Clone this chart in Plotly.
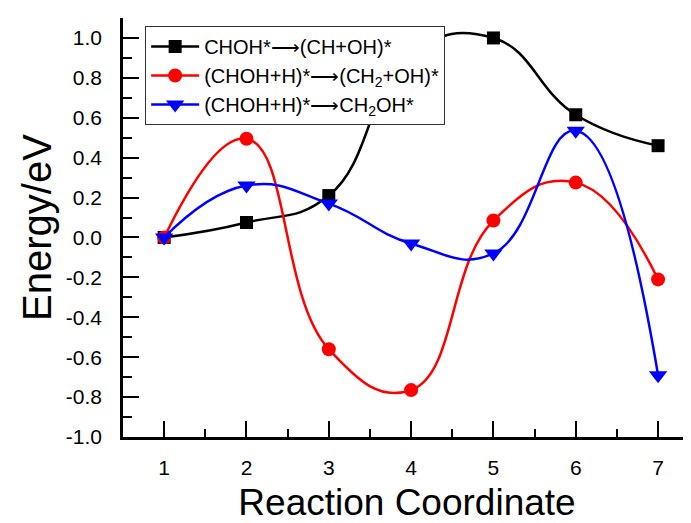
import plotly.graph_objects as go

# Data
coord = [1, 2, 3, 4, 5, 6, 7]
e_ch_oh = [0.0, 0.075, 0.21, 0.92, 1.0, 0.615, 0.46]
e_ch2_oh = [0.0, 0.495, -0.56, -0.765, 0.085, 0.275, -0.21]
e_ch2oh = [0.0, 0.26, 0.17, -0.03, -0.08, 0.535, -0.69]

y_ticks = [-1.0, -0.8, -0.6, -0.4, -0.2, 0.0, 0.2, 0.4, 0.6, 0.8, 1.0]
y_ticklabels = ["-1.0", "-0.8", "-0.6", "-0.4", "-0.2", "0.0",
                "0.2", "0.4", "0.6", "0.8", "1.0"]

names = [
    "CHOH*⟶(CH+OH)*",
    "(CHOH+H)*⟶(CH<sub>2</sub>+OH)*",
    "(CHOH+H)*⟶CH<sub>2</sub>OH*",
]
colors = ["#000000", "#FF0000", "#0000FF"]
symbols = ["square", "circle", "triangle-down"]
sizes = [13, 14, 16]
series = [e_ch_oh, e_ch2_oh, e_ch2oh]

FONT = "Arial, Liberation Sans, sans-serif"

fig = go.Figure()
for name, ys, c, s, sz in zip(names, series, colors, symbols, sizes):
    fig.add_trace(go.Scatter(
        x=coord, y=ys, name=name, mode="lines+markers",
        line=dict(color=c, width=2.5, shape="spline", smoothing=1.3),
        marker=dict(color=c, symbol=s, size=sz),
    ))

fig.update_layout(
    width=683, height=515,
    margin=dict(l=115, r=0, t=10, b=86, autoexpand=False),
    paper_bgcolor="white", plot_bgcolor="white",
    font=dict(family=FONT, color="black"),
    showlegend=True,
    legend=dict(
        x=0.039, y=0.981, xanchor="left", yanchor="top",
        bgcolor="white", bordercolor="#333333", borderwidth=1,
        font=dict(size=20, family=FONT),
        tracegroupgap=0, itemwidth=48,
    ),
    xaxis=dict(
        range=[0.5, 7.4], tickmode="array", tickvals=coord,
        ticktext=[str(v) for v in coord],
        ticks="inside", ticklen=16, tickwidth=2, tickcolor="black",
        minor=dict(ticks="inside", ticklen=8, tickwidth=2, tickcolor="black",
                   tickmode="array", tickvals=[1.5, 2.5, 3.5, 4.5, 5.5, 6.5]),
        showline=True, linewidth=2.5, linecolor="black",
        showgrid=False, zeroline=False, automargin=False,
        tickfont=dict(size=21),
        ticklabelstandoff=10,
        title=dict(text="Reaction Coordinate", font=dict(size=37), standoff=14),
    ),
    yaxis=dict(
        range=[-1.0, 1.1], tickmode="array", tickvals=y_ticks,
        ticktext=y_ticklabels,
        ticks="inside", ticklen=16, tickwidth=2, tickcolor="black",
        minor=dict(ticks="inside", ticklen=9, tickwidth=2, tickcolor="black",
                   tickmode="linear", tick0=0, dtick=0.1),
        showline=True, linewidth=2.5, linecolor="black",
        showgrid=False, zeroline=False, automargin=False,
        tickfont=dict(size=21),
        ticklabelstandoff=14,
        title=dict(text="Energy/eV", font=dict(size=40), standoff=2),
    ),
)

fig.write_html("out.html")
